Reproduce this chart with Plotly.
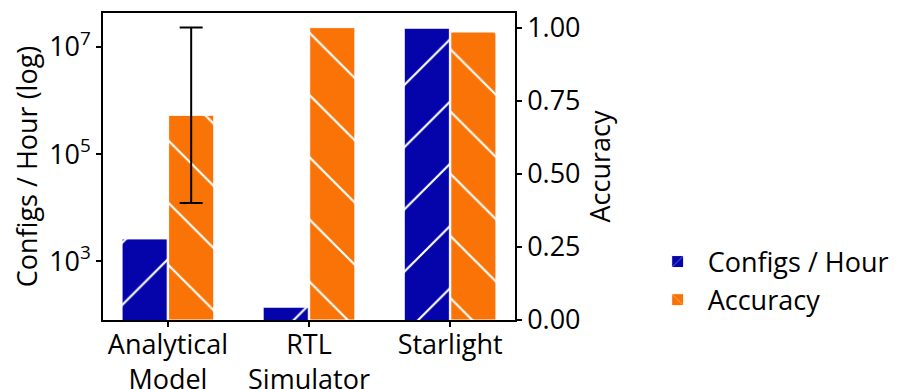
import plotly.graph_objects as go

categories = ["Analytical<br>Model", "RTL<br>Simulator", "Starlight"]
configs_per_hour = [2600, 138, 2.25e7]
accuracy = [0.70, 1.00, 0.985]
accuracy_err_category = ["Analytical<br>Model"]
accuracy_err_value = [0.70]
accuracy_err = [0.30]
left_tickvals = [1e3, 1e5, 1e7]
left_ticktext = ["10<sup>3</sup>", "10<sup>5</sup>", "10<sup>7</sup>"]
right_tickvals = [0, 0.25, 0.5, 0.75, 1.0]

BLUE = "#0504aa"
ORANGE = "#f97306"
FONT = "Open Sans"
FS = 27

fig = go.Figure()
fig.add_trace(go.Bar(
    x=categories, y=configs_per_hour, name="Configs / Hour",
    offset=-0.325, width=0.32, yaxis="y",
    marker=dict(color=BLUE, line=dict(color="white", width=1),
                pattern=dict(shape="/", fgcolor="white", bgcolor=BLUE, fgopacity=1,
                             size=44, solidity=0.05)),
))
fig.add_trace(go.Bar(
    x=categories, y=accuracy, name="Accuracy",
    offset=0.005, width=0.32, yaxis="y2",
    marker=dict(color=ORANGE, line=dict(color="white", width=1),
                pattern=dict(shape="\\", fgcolor="white", bgcolor=ORANGE, fgopacity=1,
                             size=44, solidity=0.05)),
))
# error bar only for the analytical model's accuracy
fig.add_trace(go.Bar(
    x=accuracy_err_category, y=accuracy_err_value, name="err", showlegend=False,
    offset=0.005, width=0.32, yaxis="y2", hoverinfo="skip",
    marker=dict(color="rgba(0,0,0,0)", line=dict(width=0)),
    error_y=dict(type="data", array=accuracy_err, visible=True, color="black", thickness=2, width=11.5),
))

axis_common = dict(showline=True, linecolor="black", linewidth=1.5, ticks="outside", ticklen=5,
                   tickwidth=1.5, tickcolor="black", showgrid=False, automargin=False,
                   tickfont=dict(size=FS, family=FONT, color="black"))

fig.update_layout(
    width=891, height=381,
    margin=dict(l=95, r=384, t=5, b=69),
    paper_bgcolor="white", plot_bgcolor="white",
    font=dict(family=FONT, size=FS, color="black"),
    barmode="overlay",
    showlegend=True,
    legend=dict(x=1.322, y=0.127, xanchor="left", yanchor="middle",
                font=dict(size=FS), bgcolor="rgba(0,0,0,0)", itemwidth=50, tracegroupgap=4),
    xaxis=dict(range=[-0.46, 2.46], mirror=True, ticklabelstandoff=-5, **axis_common),
    yaxis=dict(type="log", range=[1.90, 7.636], tickvals=left_tickvals, ticktext=left_ticktext,
               title=dict(text="Configs / Hour (log)", standoff=8, font=dict(size=FS)), **axis_common),
    yaxis2=dict(overlaying="y", side="right", range=[0, 1.05], tickvals=right_tickvals, tickformat=".2f",
                title=dict(text="Accuracy", standoff=10, font=dict(size=FS)), **axis_common),
)

fig.write_html("out.html")
